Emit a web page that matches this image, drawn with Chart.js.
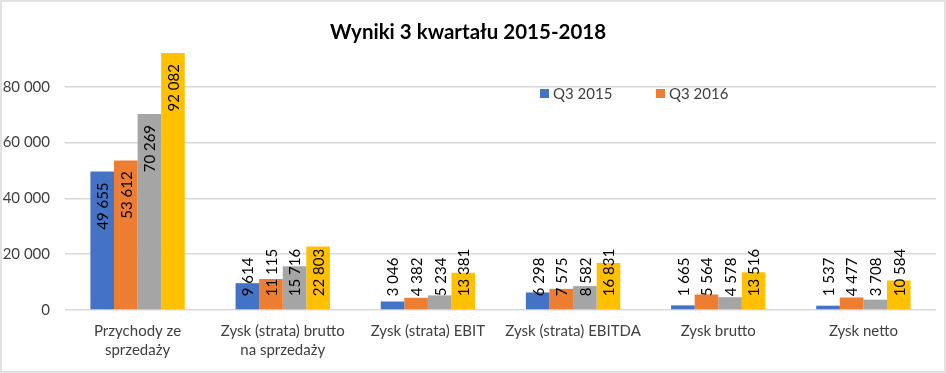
<!DOCTYPE html>
<html>
<head>
<meta charset="utf-8">
<script src="https://cdn.jsdelivr.net/npm/chart.js@4/dist/chart.umd.min.js"></script>
<style>
    html, body { margin: 0; padding: 0; background: #fff; }
    canvas { display: block; }
</style>
</head>
<body>
<canvas id="chart" width="946" height="373"></canvas>
<script>
'use strict';

const CATEGORIES = [
    ['Przychody ze', 'sprzedaży'],
    ['Zysk (strata) brutto', 'na sprzedaży'],
    'Zysk (strata) EBIT',
    'Zysk (strata) EBITDA',
    'Zysk brutto',
    'Zysk netto'
];
const SERIES = ['Q3 2015', 'Q3 2016', 'Q3 2017', 'Q3 2018'];
const Q3_2015 = [49655, 9614, 3046, 6298, 1665, 1537];
const Q3_2016 = [53612, 11115, 4382, 7575, 5564, 4477];
const Q3_2017 = [70269, 15716, 5234, 8582, 4578, 3708];
const Q3_2018 = [92082, 22803, 13381, 16831, 13516, 10584];
const Y_TICKS = [0, 20000, 40000, 60000, 80000];
const LEGEND_SHOWN = ['Q3 2015', 'Q3 2016'];

const COLORS = ['#4472C4', '#ED7D31', '#A5A5A5', '#FFC000'];
const FONT = 'Lato, "Open Sans", sans-serif';
const TEXT = '#404040';

let fmt = (v) => String(v).replace(/\B(?=(\d{3})+(?!\d))/g, ' ');

// white background + thin frame
const frame = {
    id: 'frame',
    beforeDraw: (chart) => {
        const ctx = chart.ctx;
        ctx.save();
        ctx.fillStyle = '#fff';
        ctx.fillRect(0, 0, chart.width, chart.height);
        ctx.restore();
    },
    afterDraw: (chart) => {
        const ctx = chart.ctx;
        ctx.save();
        ctx.strokeStyle = '#d9d9d9';
        ctx.lineWidth = 1.5;
        ctx.strokeRect(1, 1, chart.width - 2, chart.height - 2);
        ctx.restore();
    }
};

// rotated value labels, inside end, pushed up when the bar is too short
const valueLabels = {
    id: 'valueLabels',
    afterDatasetsDraw: (chart) => {
        const ctx = chart.ctx;
        ctx.save();
        ctx.font = '15px ' + FONT;
        ctx.fillStyle = '#000';
        ctx.textAlign = 'left';
        ctx.textBaseline = 'middle';
        chart.data.datasets.forEach((ds, i) => {
            chart.getDatasetMeta(i).data.forEach((bar, j) => {
                const txt = fmt(ds.data[j]);
                const w = ctx.measureText(txt).width;
                const bottom = Math.min(bar.y + 11 + w, bar.base - 13);
                ctx.save();
                ctx.translate(bar.x, bottom);
                ctx.rotate(-Math.PI / 2);
                ctx.fillText(txt, 0, 1);
                ctx.restore();
            });
        });
        ctx.restore();
    }
};

// legend sits inside the plot, only two entries visible
const innerLegend = {
    id: 'innerLegend',
    afterDraw: (chart) => {
        const ctx = chart.ctx;
        const xs = [540, 656];
        ctx.save();
        ctx.font = '15px ' + FONT;
        ctx.textBaseline = 'middle';
        ctx.textAlign = 'left';
        LEGEND_SHOWN.forEach((name, k) => {
            const i = SERIES.indexOf(name);
            ctx.fillStyle = COLORS[i];
            ctx.fillRect(xs[k], 89, 9, 9);
            ctx.fillStyle = TEXT;
            ctx.fillText(name, xs[k] + 13, 94);
        });
        ctx.restore();
    }
};

window.onload = () => {
    const values = [Q3_2015, Q3_2016, Q3_2017, Q3_2018];
    const chart = new Chart(document.getElementById('chart'), {
        type: 'bar',
        data: {
            labels: CATEGORIES,
            datasets: SERIES.map((name, i) => ({
                label: name,
                data: values[i],
                backgroundColor: COLORS[i],
                borderWidth: 0,
                categoryPercentage: 0.65,
                barPercentage: 1
            }))
        },
        options: {
            responsive: false,
            animation: false,
            layout: { padding: { left: 0, right: 10, top: 0, bottom: 0 } },
            plugins: {
                legend: { display: false },
                tooltip: { enabled: false },
                title: {
                    display: true,
                    text: 'Wyniki 3 kwartału 2015-2018',
                    color: '#000',
                    font: { family: FONT, size: 20.5, weight: 'bold' },
                    padding: { top: 20, bottom: -13.6 }
                }
            },
            scales: {
                x: {
                    grid: { display: false, drawTicks: false },
                    border: { display: false },
                    ticks: {
                        color: TEXT,
                        font: { family: FONT, size: 15, lineHeight: 1.3 },
                        padding: 11,
                        maxRotation: 0,
                        autoSkip: false
                    },
                    afterFit: (s) => { s.height = 63; }
                },
                y: {
                    min: 0,
                    max: 100000,
                    afterBuildTicks: (s) => {
                        s.ticks = Y_TICKS.concat([100000]).map(v => ({ value: v }));
                    },
                    grid: {
                        drawTicks: false,
                        lineWidth: 1.5,
                        color: (c) => c.tick && c.tick.value === 100000 ? 'rgba(0,0,0,0)' : '#d9d9d9'
                    },
                    border: { display: false },
                    ticks: {
                        color: TEXT,
                        font: { family: FONT, size: 15 },
                        padding: 15,
                        callback: (v) => v === 100000 ? '' : fmt(v)
                    },
                    afterFit: (s) => { s.width = 65; }
                }
            }
        },
        plugins: [frame, valueLabels, innerLegend]
    });
};
</script>
</body>
</html>
